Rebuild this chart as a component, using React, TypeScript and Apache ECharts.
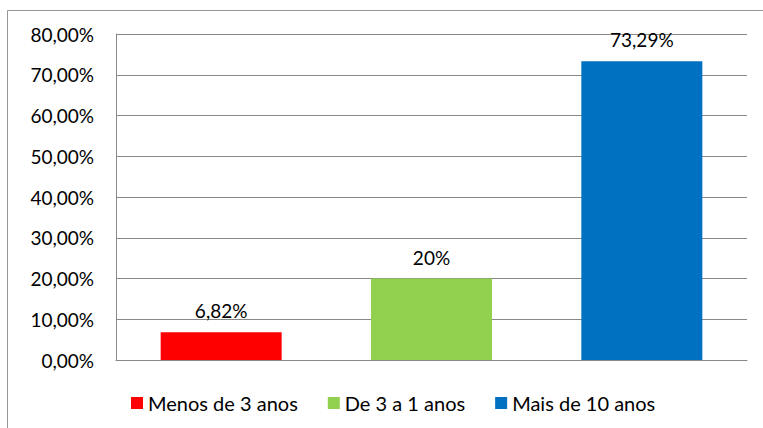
import React, { useEffect, useRef } from "react";
import * as echarts from "echarts";

const categories = ["Menos de 3 anos", "De 3 a 1 anos", "Mais de 10 anos"];
const values = [6.82, 20, 73.29];
const valueLabels = ["6,82%", "20%", "73,29%"];
const colors = ["#FF0000", "#92D050", "#0070C0"];
const yTicks = [0, 10, 20, 30, 40, 50, 60, 70, 80];

const FONT = "Lato";

export default function App() {
  const ref = useRef<HTMLDivElement>(null);
  useEffect(() => {
    if (!ref.current) return;
    const chart = echarts.init(ref.current, null, { renderer: "svg" });
    const series = categories.map((name, i) => ({
      name,
      type: "bar",
      stack: "all",
      barWidth: 121,
      itemStyle: { color: colors[i] },
      data: categories.map((_, j) => (j === i ? values[i] : "-")),
      label: {
        show: true,
        position: "top",
        distance: 12,
        color: "#000",
        fontFamily: FONT,
        fontSize: 19,
        formatter: () => valueLabels[i],
      },
    }));
    chart.setOption({
      animation: false,
      textStyle: { fontFamily: FONT },
      graphic: [
        {
          type: "rect",
          shape: { x: 7.5, y: 10.5, width: 900, height: 600 },
          style: { fill: "none", stroke: "#969696", lineWidth: 1 },
          silent: true,
          z: -1,
        },
      ],
      grid: { left: 116, top: 34, right: 16, bottom: 68, containLabel: false },
      xAxis: {
        type: "category",
        data: categories,
        axisLine: { show: true, lineStyle: { color: "#888", width: 1 } },
        axisTick: { show: false },
        axisLabel: { show: false },
      },
      yAxis: {
        type: "value",
        min: yTicks[0],
        max: yTicks[yTicks.length - 1],
        interval: 10,
        axisLine: { show: true, lineStyle: { color: "#888", width: 1 } },
        axisTick: { show: false },
        splitLine: { show: true, lineStyle: { color: "#888", width: 1 } },
        axisLabel: {
          margin: 22,
          color: "#000",
          fontFamily: FONT,
          fontSize: 19,
          formatter: (v: number) => v.toFixed(2).replace(".", ",") + "%",
        },
      },
      legend: {
        data: categories,
        left: 126,
        top: 388,
        padding: 5,
        icon: "rect",
        itemWidth: 12,
        itemHeight: 12,
        itemGap: 30,
        textStyle: { color: "#000", fontFamily: FONT, fontSize: 20, lineHeight: 20 },
      },
      series,
    });
    return () => chart.dispose();
  }, []);
  return (
    <div
      ref={ref}
      style={{ position: "fixed", left: 0, top: 0, width: 763, height: 428, background: "#fff" }}
    />
  );
}
